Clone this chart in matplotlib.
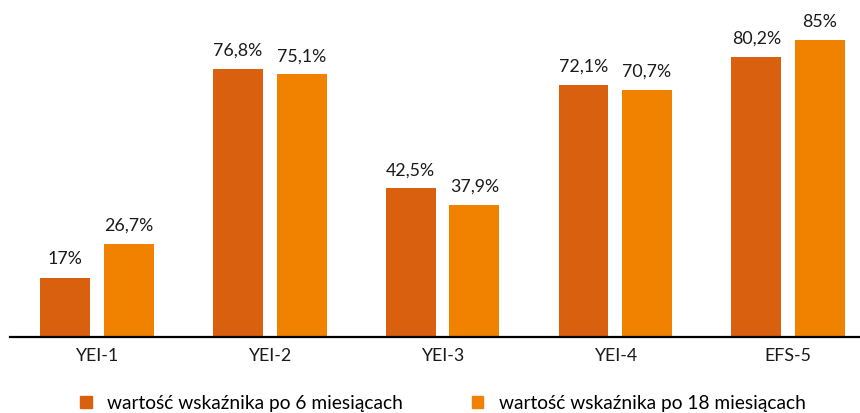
import numpy as np
import matplotlib.pyplot as plt
from matplotlib.patches import Patch

plt.rcParams['font.family'] = ['Lato', 'DejaVu Sans']

categories = ["YEI-1", "YEI-2", "YEI-3", "YEI-4", "EFS-5"]
after_6m = [17.0, 76.8, 42.5, 72.1, 80.2]
after_18m = [26.7, 75.1, 37.9, 70.7, 85.0]
labels_6m = ["17%", "76,8%", "42,5%", "72,1%", "80,2%"]
labels_18m = ["26,7%", "75,1%", "37,9%", "70,7%", "85%"]
series_names = ["wartość wskaźnika po 6 miesiącach", "wartość wskaźnika po 18 miesiącach"]

c6 = "#D9600F"
c18 = "#F08200"

fig = plt.figure(figsize=(8.6, 4.14), dpi=100)
ax = fig.add_axes([10/860, 1 - 338/414, 850/860, 338/414])

x = np.arange(len(categories))
w = 0.289
off = 0.184
b1 = ax.bar(x - off, after_6m, w, color=c6)
b2 = ax.bar(x + off, after_18m, w, color=c18)

for bars, labs in ((b1, labels_6m), (b2, labels_18m)):
    for b, t in zip(bars, labs):
        ax.annotate(t, (b.get_x() + b.get_width()/2, b.get_height()),
                    xytext=(0, 8), textcoords="offset points",
                    ha="center", va="bottom", fontsize=12.8, color="#1a1a1a")

ax.set_xlim(-0.504, 4.417)
ax.set_ylim(0, 96.7)
ax.set_xticks(x)
ax.set_xticklabels(categories, fontsize=12.8, color="#1a1a1a")
ax.tick_params(axis="x", length=0, pad=7)
ax.set_yticks([])
for s in ("top", "right", "left"):
    ax.spines[s].set_visible(False)
ax.spines["bottom"].set_linewidth(1.6)
ax.spines["bottom"].set_color("black")

handles = [Patch(color=c6), Patch(color=c18)]
fig.legend(handles, series_names, loc="center", bbox_to_anchor=(0.515, 1 - 404/414),
           ncol=2, frameon=False, fontsize=13.8, handlelength=0.6, handleheight=0.6,
           columnspacing=3.6, handletextpad=0.8)

fig.savefig("out.png", dpi=100)
